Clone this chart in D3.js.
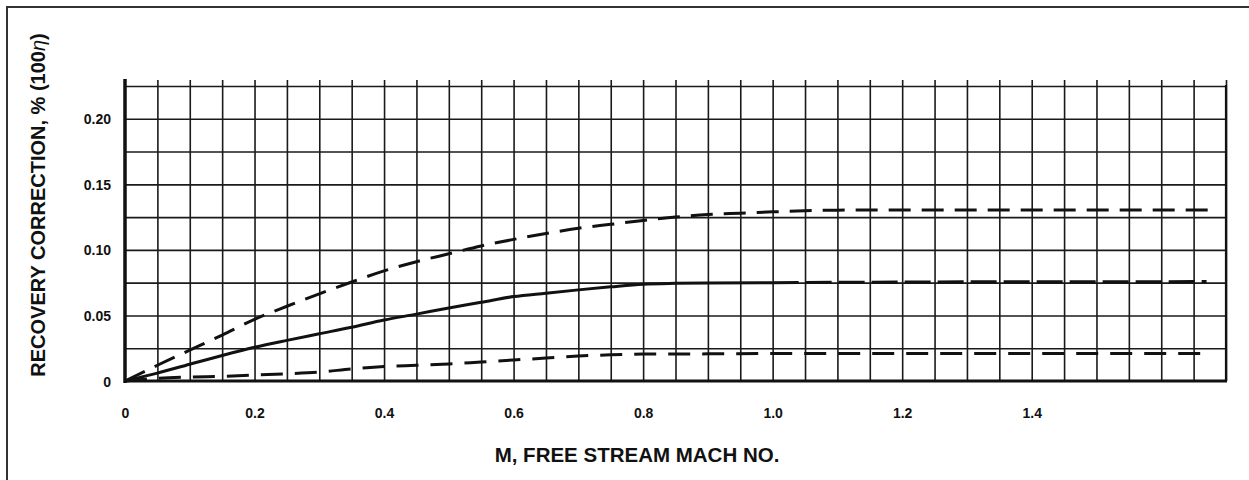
<!DOCTYPE html>
<html>
<head>
<meta charset="utf-8">
<script src="https://cdn.jsdelivr.net/npm/d3@7"></script>
<style>
  body { margin: 0; background: #fff; }
  svg { display: block; }
  text { font-family: "Liberation Sans", Arial, sans-serif; font-weight: bold; fill: #111; }
</style>
</head>
<body>
<div class="graph"></div>
<script>
//Tick values and their labels
const xTicks = [0, 0.2, 0.4, 0.6, 0.8, 1.0, 1.2, 1.4];
const xLabels = ["0", "0.2", "0.4", "0.6", "0.8", "1.0", "1.2", "1.4"];
const yTicks = [0, 0.05, 0.10, 0.15, 0.20];
const yLabels = ["0", "0.05", "0.10", "0.15", "0.20"];

//Upper dashed curve
const machUpper = [0, 0.05, 0.1, 0.15, 0.2, 0.25, 0.3, 0.35, 0.4, 0.45, 0.5, 0.55, 0.6, 0.65, 0.7, 0.75, 0.8, 0.85, 0.9, 0.95, 1.0, 1.1, 1.2, 1.4, 1.675];
const upper = [0, 0.012, 0.0235, 0.035, 0.047, 0.057, 0.0665, 0.0755, 0.084, 0.091, 0.097, 0.103, 0.108, 0.1125, 0.1165, 0.1195, 0.1225, 0.125, 0.127, 0.128, 0.129, 0.1303, 0.1305, 0.1305, 0.1305];

//Middle solid curve (dashed past M = 1.0)
const machMid = [0, 0.05, 0.1, 0.15, 0.2, 0.25, 0.3, 0.35, 0.4, 0.45, 0.5, 0.55, 0.6, 0.65, 0.7, 0.75, 0.8, 0.85, 0.9, 1.0];
const mid = [0, 0.006, 0.0128, 0.0195, 0.0257, 0.031, 0.036, 0.041, 0.0465, 0.051, 0.0557, 0.06, 0.0644, 0.067, 0.0695, 0.0718, 0.0738, 0.0745, 0.0748, 0.075];
const machMidTail = [1.0, 1.2, 1.4, 1.67];
const midTail = [0.075, 0.0755, 0.0757, 0.0758];

//Lower dashed curve
const machLower = [0, 0.05, 0.1, 0.15, 0.2, 0.25, 0.3, 0.35, 0.4, 0.45, 0.5, 0.55, 0.6, 0.65, 0.7, 0.75, 0.8, 0.9, 1.0, 1.675];
const lower = [0, 0.002, 0.003, 0.0035, 0.0045, 0.0055, 0.0068, 0.0092, 0.011, 0.012, 0.013, 0.0145, 0.016, 0.0175, 0.019, 0.02, 0.0205, 0.0207, 0.021, 0.021];

const WIDTH = 1249, HEIGHT = 480;
const LEFT = 125, RIGHT = 1226, TOP = 86, BOTTOM = 381;

let svg = d3.select(".graph")
    .append("svg")
    .attr("width", WIDTH)
    .attr("height", HEIGHT);

//Outer frame (only left and top edges are inside the picture)
svg.append("rect")
    .attr("x", 7).attr("y", 7)
    .attr("width", 1400).attr("height", 700)
    .attr("fill", "none")
    .attr("stroke", "#333")
    .attr("stroke-width", 2);

let xScale = d3.scaleLinear().domain([0, 1.7]).range([LEFT, RIGHT]);
let yScale = d3.scaleLinear().domain([0, 0.225]).range([BOTTOM, TOP]);

//Grid: vertical every 0.05, horizontal every 0.025
svg.append("g")
    .attr("transform", `translate(0, ${BOTTOM})`)
    .call(d3.axisBottom(xScale)
        .tickValues(d3.range(0, 34).map(i => (i + 1) * 0.05))
        .tickSize(-(BOTTOM - TOP + 6))
        .tickFormat(""))
    .call(g => g.select(".domain").remove())
    .call(g => g.selectAll("line").attr("stroke", "#1a1a1a").attr("stroke-width", 1.6));

svg.append("g")
    .attr("transform", `translate(${LEFT}, 0)`)
    .call(d3.axisRight(yScale)
        .tickValues(d3.range(1, 10).map(i => i * 0.025))
        .tickSize(RIGHT - LEFT)
        .tickFormat(""))
    .call(g => g.select(".domain").remove())
    .call(g => g.selectAll("line").attr("stroke", "#1a1a1a").attr("stroke-width", 1.6));

//Heavy axes
svg.append("line")
    .attr("x1", LEFT).attr("x2", LEFT)
    .attr("y1", TOP - 7).attr("y2", BOTTOM + 2)
    .attr("stroke", "#111").attr("stroke-width", 3.5);
svg.append("line")
    .attr("x1", LEFT - 1).attr("x2", RIGHT + 1)
    .attr("y1", BOTTOM).attr("y2", BOTTOM)
    .attr("stroke", "#111").attr("stroke-width", 3.2);
svg.append("line")
    .attr("x1", RIGHT).attr("x2", RIGHT)
    .attr("y1", TOP - 1).attr("y2", BOTTOM)
    .attr("stroke", "#111").attr("stroke-width", 2.2);

//Tick labels
svg.append("g")
    .attr("transform", `translate(0, ${BOTTOM})`)
    .call(d3.axisBottom(xScale)
        .tickValues(xTicks)
        .tickFormat((d, i) => xLabels[i])
        .tickSize(0)
        .tickPadding(27))
    .call(g => g.select(".domain").remove())
    .call(g => g.selectAll("text")
        .attr("font-size", "14px")
        .attr("font-family", "Liberation Sans, Arial, sans-serif")
        .attr("font-weight", "bold")
        .attr("fill", "#111"));

svg.append("g")
    .attr("transform", `translate(${LEFT}, 0)`)
    .call(d3.axisLeft(yScale)
        .tickValues(yTicks)
        .tickFormat((d, i) => yLabels[i])
        .tickSize(0)
        .tickPadding(14))
    .call(g => g.select(".domain").remove())
    .call(g => g.selectAll("text")
        .attr("dy", "0.36em")
        .attr("font-size", "14px")
        .attr("font-family", "Liberation Sans, Arial, sans-serif")
        .attr("font-weight", "bold")
        .attr("fill", "#111"));

//Axis titles
svg.append("text")
    .attr("x", 637)
    .attr("y", 462)
    .attr("text-anchor", "middle")
    .attr("font-size", "20.5px")
    .text("M, FREE STREAM MACH NO.");

let yTitle = svg.append("text")
    .attr("text-anchor", "middle")
    .attr("font-size", "20px")
    .attr("transform", "translate(45, 205) rotate(-90)");
yTitle.append("tspan").text("RECOVERY CORRECTION, % (100");
yTitle.append("tspan").attr("font-style", "italic").attr("font-weight", "normal").text("η");
yTitle.append("tspan").text(")");

//Curves
let line = d3.line()
    .x(d => xScale(d[0]))
    .y(d => yScale(d[1]))
    .curve(d3.curveMonotoneX);

function drawCurve(ms, vs, dash) {
    svg.append("path")
        .datum(ms.map((m, i) => [m, vs[i]]))
        .attr("d", line)
        .attr("fill", "none")
        .attr("stroke", "#111")
        .attr("stroke-width", 3)
        .attr("stroke-dasharray", dash);
}

drawCurve(machUpper, upper, "22,11");
drawCurve(machMid, mid, null);
drawCurve(machMidTail, midTail, "26,7");
drawCurve(machLower, lower, "22,12");
</script>
</body>
</html>
